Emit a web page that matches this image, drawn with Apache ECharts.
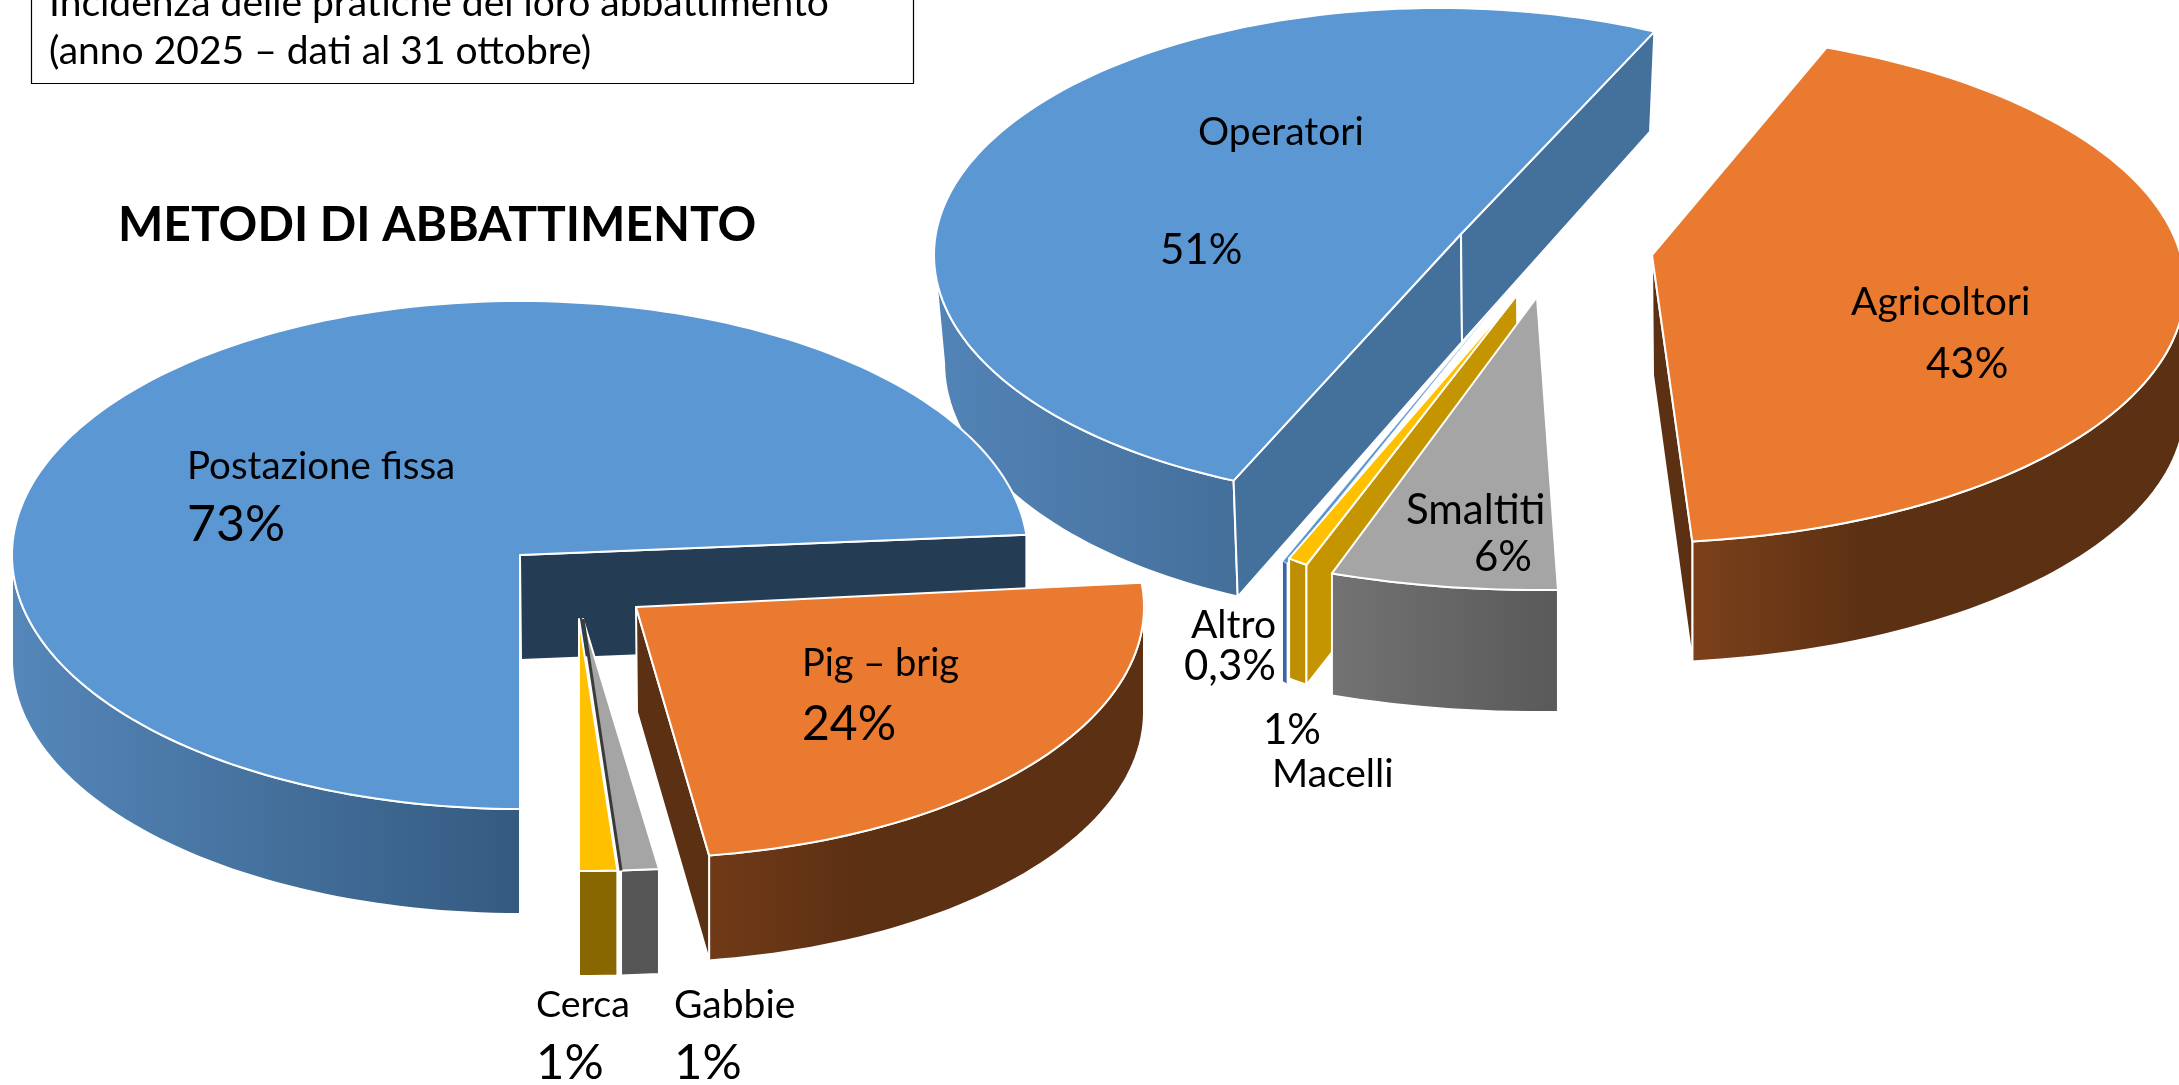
<!DOCTYPE html>
<html>
<head>
<meta charset="utf-8">
<style>
    html, body { margin: 0; padding: 0; background: #fff; }
    #main { width: 2179px; height: 1085px; }
</style>
<script src="https://cdn.jsdelivr.net/npm/echarts@6/dist/echarts.min.js"></script>
</head>
<body>
<div id="main"></div>
<script>
// left pie
const metodiNames = ['Postazione fissa', 'Pig – brig', 'Gabbie', 'Cerca'];
const metodiValues = [73, 24, 1, 1];
// right pie
const soggettiNames = ['Operatori', 'Agricoltori', 'Smaltiti', 'Macelli', 'Altro'];
const soggettiValues = [51, 43, 6, 1, 0.3];

const boxLines = ['Incidenza delle pratiche del loro abbattimento', '(anno 2025 – dati al 31 ottobre)'];
const chartTitle = 'METODI DI ABBATTIMENTO';

const FONT = 'Lato, "Open Sans", sans-serif';

const BLUE = '#5b97d3';
const ORANGE = '#e97a30';
const GREY = '#a5a5a5';
const YELLOW = '#ffc000';
const BROWN = '#5c3013';

// one entry per slice: apex of the wedge, shift of the rim ellipse from it, radii, rotation, colours
const metodiLayout = [
    { apex: [520, 555], shift: [0, 0], rx: 508, ry: 254, rot: 0, depth: 105, top: BLUE,
        rim: ['#5587ba', '#345a80'], wallEnd: '#243c54', order: 1,
        name: [187, 467, 38.5], pct: [187, 525, 50] },
    { apex: [636, 607], shift: [0, 0], rx: 508, ry: 251, rot: -1, depth: 105, top: ORANGE,
        rim: ['#713a17', BROWN], rimStop: 0.35, wallEnd: BROWN, order: 4,
        name: [802, 664, 38], pct: [802, 725, 48] },
    { apex: [583, 619], shift: [0, 0], rx: 600, ry: 252, rot: 0, depth: 105, top: GREY,
        rim: ['#555555', '#555555'], edgeStart: '#3a3a3a', order: 2,
        name: [674, 1005, 39], pct: [674, 1063, 49] },
    { apex: [579, 619], shift: [0, 0], rx: 605, ry: 252, rot: 0, depth: 105, top: YELLOW,
        rim: ['#886600', '#886600'], order: 3,
        name: [536, 1005, 37.5], pct: [536, 1063, 49] }
];

const soggettiLayout = [
    { apex: [1461, 234], shift: [-22, 21], rx: 505, ry: 247, rot: 0, depth: 108, persp: 0.08, taper: 0.98, top: BLUE,
        rim: ['#5384b7', '#446f9b'], wallStart: '#44709c', wallEnd: '#44709c', order: 1,
        name: [1198, 132, 39], pct: [1160, 250, 42] },
    { apex: [1652, 255], shift: [-22, 32], rx: 555, ry: 256, rot: -4.5, depth: 120, top: ORANGE,
        rim: ['#7c411a', BROWN], rimStop: 0.35, wallEnd: BROWN, order: 2,
        name: [1851, 302, 39], pct: [1926, 364, 42] },
    { apex: [1537, 297], shift: [0, 0], rx: 618, ry: 293, rot: 0, depth: 122, top: GREY,
        rim: ['#737373', '#595959'], order: 5,
        name: [1406, 510, 42], pct: [1474, 557, 42] },
    { apex: [1517, 295], shift: [-111, 0], rx: 300, ry: 286, rot: 0, depth: 120, top: YELLOW,
        rim: ['#bd8f00', '#bd8f00'], wallStart: '#c49500', order: 4,
        name: [1272, 774, 39], pct: [1263, 730, 42] },
    { apex: [1500, 300], shift: [-130, 0], rx: 214, ry: 286, rot: 0, depth: 120, top: BLUE, thin: true,
        rim: ['#3f63a8', '#3f63a8'], order: 3,
        name: [1191, 625, 39], pct: [1184, 666, 42] }
];

function rimPoint(slice, angle, down) {
    const rad = angle * Math.PI / 180;
    const cy = slice.apex[1] + slice.shift[1];
    const y = cy - Math.cos(rad) * slice.ry;
    if (!down) {
        return [slice.apex[0] + slice.shift[0] + Math.sin(rad) * slice.rx, y];
    }
    const taper = slice.taper || 1;
    const d = slice.depth * (1 + (slice.persp || 0) * (y - cy) / slice.ry);
    return [slice.apex[0] + slice.shift[0] + Math.sin(rad) * slice.rx * taper, y + d];
}

function arcPoints(slice, a0, a1, down) {
    const pts = [];
    const n = Math.max(2, Math.ceil(Math.abs(a1 - a0) / 1.5));
    for (let i = 0; i <= n; i++) {
        pts.push(rimPoint(slice, a0 + (a1 - a0) * i / n, down));
    }
    return pts;
}

function polygon(points, fill, z2, strokeWidth) {
    return {
        type: 'polygon',
        z2: z2,
        shape: { points: points },
        style: { fill: fill, stroke: strokeWidth ? '#ffffff' : null, lineWidth: strokeWidth || 0, lineJoin: 'round' }
    };
}

function wall(slice, angle, fill, z2) {
    return polygon([
        slice.apex,
        rimPoint(slice, angle, false),
        rimPoint(slice, angle, true),
        [slice.apex[0] + 1, slice.apex[1] + slice.depth]
    ], fill, z2, 2);
}

function labelText(pos, text) {
    return {
        type: 'text',
        z2: 1000,
        style: {
            x: pos[0], y: pos[1], text: text,
            fontSize: pos[2], fontFamily: FONT, fill: '#000000',
            align: 'left', verticalAlign: 'middle'
        }
    };
}

function pctText(v) {
    return String(v).replace('.', ',') + '%';
}

function pieSeries(names, values, layout, startAngle, z) {
    const total = values.reduce((a, b) => a + b, 0);
    let cum = [0];
    values.forEach((v) => cum.push(cum[cum.length - 1] + v));

    return {
        type: 'custom',
        coordinateSystem: 'none',
        z: z,
        silent: true,
        animation: false,
        data: values.map((v) => [v]),
        renderItem: function (params, api) {
            const i = params.dataIndex;
            const slice = layout[i];
            const angleOf = (c) => echarts.number.linearMap(c, [0, total], [startAngle, startAngle + 360]);
            const a0 = ((angleOf(cum[i]) + slice.rot) % 360 + 360) % 360;
            const a1 = a0 + api.value(0) / total * 360;
            const base = slice.order * 10;
            const children = [];

            // front rim, only the part that faces the viewer
            [[90, 270], [450, 630]].forEach(function (range) {
                const from = Math.max(a0, range[0]);
                const to = Math.min(a1, range[1]);
                if (to > from) {
                    const pts = arcPoints(slice, from, to, false).concat(arcPoints(slice, to, from, true));
                    const fill = new echarts.graphic.LinearGradient(0, 0, 1, 0, [
                        { offset: 0, color: slice.rim[0] },
                        { offset: slice.rimStop || 1, color: slice.rim[1] },
                        { offset: 1, color: slice.rim[1] }
                    ]);
                    children.push(polygon(pts, fill, base + 1, slice.thin ? 0 : 2));
                }
            });

            if (slice.wallStart) {
                children.push(wall(slice, a0, slice.wallStart, base + 2));
            }
            if (slice.wallEnd) {
                children.push(wall(slice, a1, slice.wallEnd, base + 2));
            }

            const topPts = [slice.apex].concat(arcPoints(slice, a0, a1, false));
            children.push(polygon(topPts, slice.top, base + 3, slice.thin ? 0.6 : 2));

            if (slice.edgeStart) {
                children.push({
                    type: 'polyline',
                    z2: base + 4,
                    shape: { points: [slice.apex, rimPoint(slice, a1, false)] },
                    style: { stroke: slice.edgeStart, lineWidth: 3, fill: null }
                });
            }

            children.push(labelText(slice.name, names[i]));
            children.push(labelText(slice.pct, pctText(values[i])));
            return { type: 'group', children: children };
        }
    };
}

const chart = echarts.init(document.getElementById('main'), null, { renderer: 'canvas' });
chart.setOption({
    animation: false,
    backgroundColor: '#ffffff',
    graphic: [
        {
            type: 'rect',
            shape: { x: 31.5, y: -10, width: 882, height: 93.5 },
            style: { fill: '#ffffff', stroke: '#000000', lineWidth: 1.2 },
            z: 5
        },
        {
            type: 'text',
            z: 6,
            style: { x: 49, y: 23, text: boxLines[0], fontSize: 39, fontFamily: FONT, fill: '#000', verticalAlign: 'bottom' }
        },
        {
            type: 'text',
            z: 6,
            style: { x: 49, y: 51, text: boxLines[1], fontSize: 39, fontFamily: FONT, fill: '#000', verticalAlign: 'middle' }
        },
        {
            type: 'text',
            z: 6,
            style: { x: 118, y: 226, text: chartTitle, fontSize: 48, fontWeight: 'bold', fontFamily: FONT, fill: '#000', verticalAlign: 'middle' }
        }
    ],
    series: [
        pieSeries(soggettiNames, soggettiValues, soggettiLayout, 204, 1),
        pieSeries(metodiNames, metodiValues, metodiLayout, 180, 2)
    ]
});

window.addEventListener('resize', () => {
    chart.resize();
});
</script>
</body>
</html>
